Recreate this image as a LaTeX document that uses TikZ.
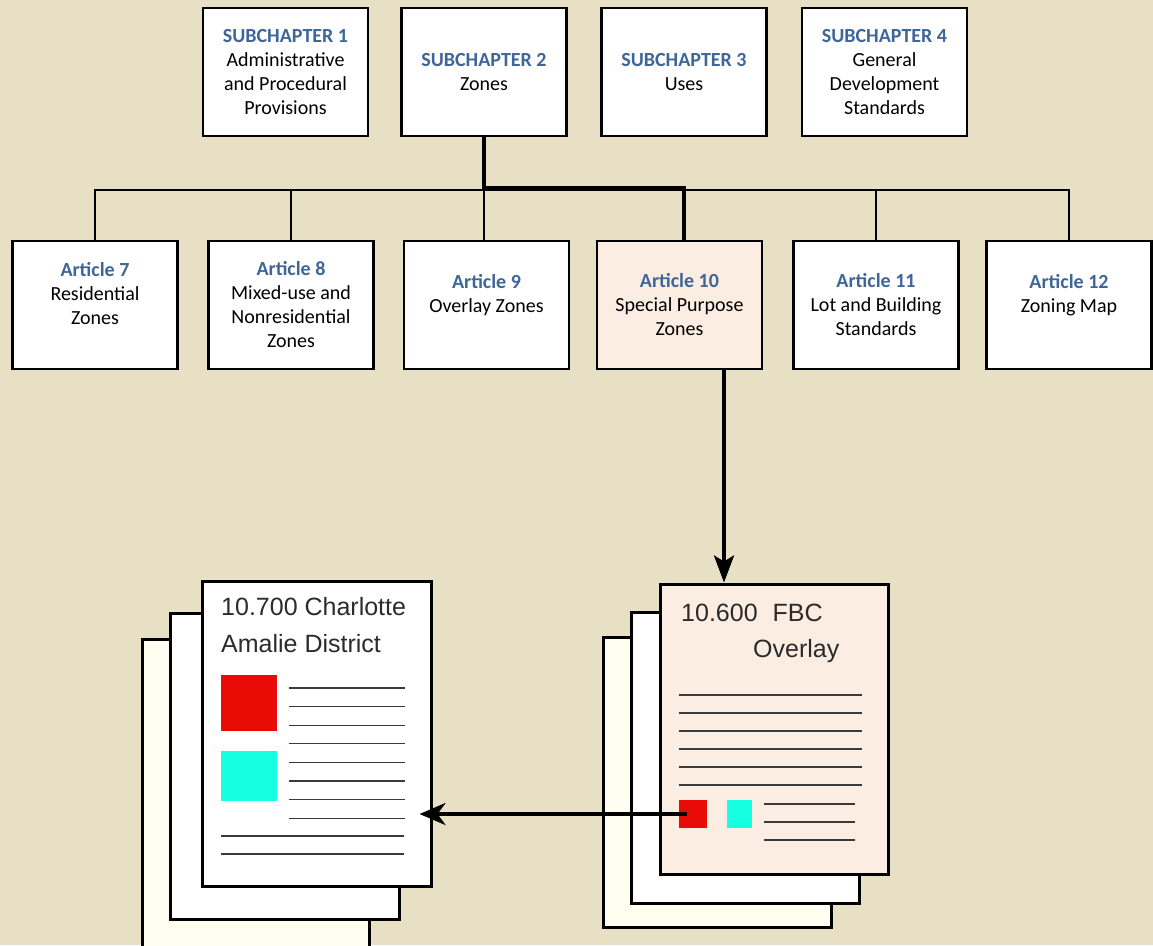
\documentclass[tikz,border=0pt]{standalone}
\usepackage{fontspec}
\newfontfamily\carlito{Carlito}
\newfontfamily\docfont{Liberation Sans}
\usetikzlibrary{arrows.meta}
\definecolor{bg}{RGB}{232,224,196}
\definecolor{peach}{RGB}{251,237,225}
\definecolor{ivory}{RGB}{255,254,240}
\definecolor{hdblue}{RGB}{62,102,152}
\definecolor{docred}{RGB}{233,11,5}
\definecolor{doccyan}{RGB}{22,255,226}
\definecolor{doctext}{RGB}{43,43,43}
\definecolor{rule}{RGB}{58,58,58}
\tikzset{
  box/.style={draw=black, line width=2.5pt, fill=white, minimum width=165pt, minimum height=128pt,
    inner sep=0pt, align=center, font=\carlito\fontsize{20}{24}\selectfont},
  page/.style={draw=black, line width=3pt, inner sep=0pt},
  thinlink/.style={draw=black, line width=1.8pt},
  thicklink/.style={draw=black, line width=4pt},
  doctitle/.style={font=\docfont\fontsize{25}{30}\selectfont, text=doctext, inner sep=0pt, anchor=base west},
  docrule/.style={draw=rule, line width=1.1pt},
}
\newcommand{\hd}[1]{\textcolor{hdblue}{\bfseries #1}}
\begin{document}
\begin{tikzpicture}[x=1pt,y=-1pt]
\fill[bg] (0,0) rectangle (1153,945);
\useasboundingbox (0,0) rectangle (1153,945);
\clip (0,0) rectangle (1153,945);

% top boxes
\node[box] (sc1) at (285.5,72) {\hd{SUBCHAPTER 1}\\Administrative\\and Procedural\\Provisions};
\node[box] (sc2) at (484,72) {\hd{SUBCHAPTER 2}\\Zones};
\node[box] (sc3) at (684,72) {\hd{SUBCHAPTER 3}\\Uses};
\node[box] (sc4) at (884.5,72) {\hd{SUBCHAPTER 4}\\General\\Development\\Standards};

% articles
\node[box] (a7) at (95,305) {\hd{Article 7}\\Residential\\Zones\\\mbox{}};
\node[box] (a8) at (291,305) {\hd{Article 8}\\Mixed-use and\\Nonresidential\\Zones};
\node[box] (a9) at (486.5,305) {\hd{Article 9}\\Overlay Zones\\\mbox{}};
\node[box, fill=peach] (a10) at (679.5,305) {\hd{Article 10}\\Special Purpose\\Zones};
\node[box] (a11) at (876,305) {\hd{Article 11}\\Lot and Building\\Standards};
\node[box] (a12) at (1069,305) {\hd{Article 12}\\Zoning Map\\\mbox{}};

% connectors
\coordinate (bus) at (0,190);
\draw[thinlink] (a7.north) |- (a12.north |- bus) -- (a12.north);
\draw[thinlink] (a8.north) -- (a8.north |- bus);
\draw[thinlink] ([xshift=-2.5pt]a9.north) -- ([xshift=-2.5pt]a9.north |- bus);
\draw[thinlink] (a11.north) -- (a11.north |- bus);
\coordinate (a10in) at ([xshift=4.5pt]a10.north);
\draw[thicklink] (sc2.south) |- (0,188 -| a10in) -- (a10in);

% left document stack
\node[page, fill=ivory, minimum width=227pt, minimum height=316pt] (cadback) at (255.5,797) {};
\node[page, fill=white, minimum width=229pt, minimum height=306pt] (cadmid) at (284.5,766) {};
\node[page, fill=white, minimum width=229pt, minimum height=305pt] (cadfront) at (316.5,733.5) {};
\node[doctitle] (cadt1) at (221,615) {10.700 Charlotte};
\node[doctitle] (cadt2) at (221,652) {Amalie District};
\fill[docred] (221,675) rectangle (277,731);
\fill[doccyan] (221,751) rectangle (277,801);
\foreach \k in {0,...,7} {\draw[docrule] (289,688+18.6*\k) -- (405,688+18.6*\k);}
\draw[docrule] (221,836) -- (404,836);
\draw[docrule] (221,854) -- (404,854);

% right document stack
\node[page, fill=ivory, minimum width=228pt, minimum height=290pt] (fbcback) at (717,782) {};
\node[page, fill=white, minimum width=228pt, minimum height=291pt] (fbcmid) at (745,757.5) {};
\node[page, fill=peach, minimum width=228pt, minimum height=290pt] (fbcfront) at (774,729) {};
\node[doctitle] (fbct1) at (681,621) {10.600\hspace{0.6em}FBC};
\node[doctitle] (fbct2) at (753,657) {Overlay};
\foreach \k in {0,...,5} {\draw[docrule] (679,695+18*\k) -- (862,695+18*\k);}
\foreach \k in {0,...,2} {\draw[docrule] (764,804+18*\k) -- (855,804+18*\k);}
\node[fill=docred, minimum width=28pt, minimum height=28pt, inner sep=0pt] (fbcred) at (693,814) {};
\node[fill=doccyan, minimum width=25pt, minimum height=28pt, inner sep=0pt] (fbccyan) at (739.5,814) {};

% arrows
\coordinate (a10out) at ([xshift=44.5pt]a10.south);
\draw[thicklink, -{Stealth[length=27pt, width=20pt, inset=6pt]}] (a10out) -- (a10out |- fbcfront.north);
\coordinate (cadin) at ([xshift=-13pt]cadfront.east |- fbcred.center);
\draw[thicklink, -{Stealth[length=26pt, width=22pt, inset=8pt]}] ([xshift=-6pt]fbcred.center) -- (cadin);
\end{tikzpicture}
\end{document}
